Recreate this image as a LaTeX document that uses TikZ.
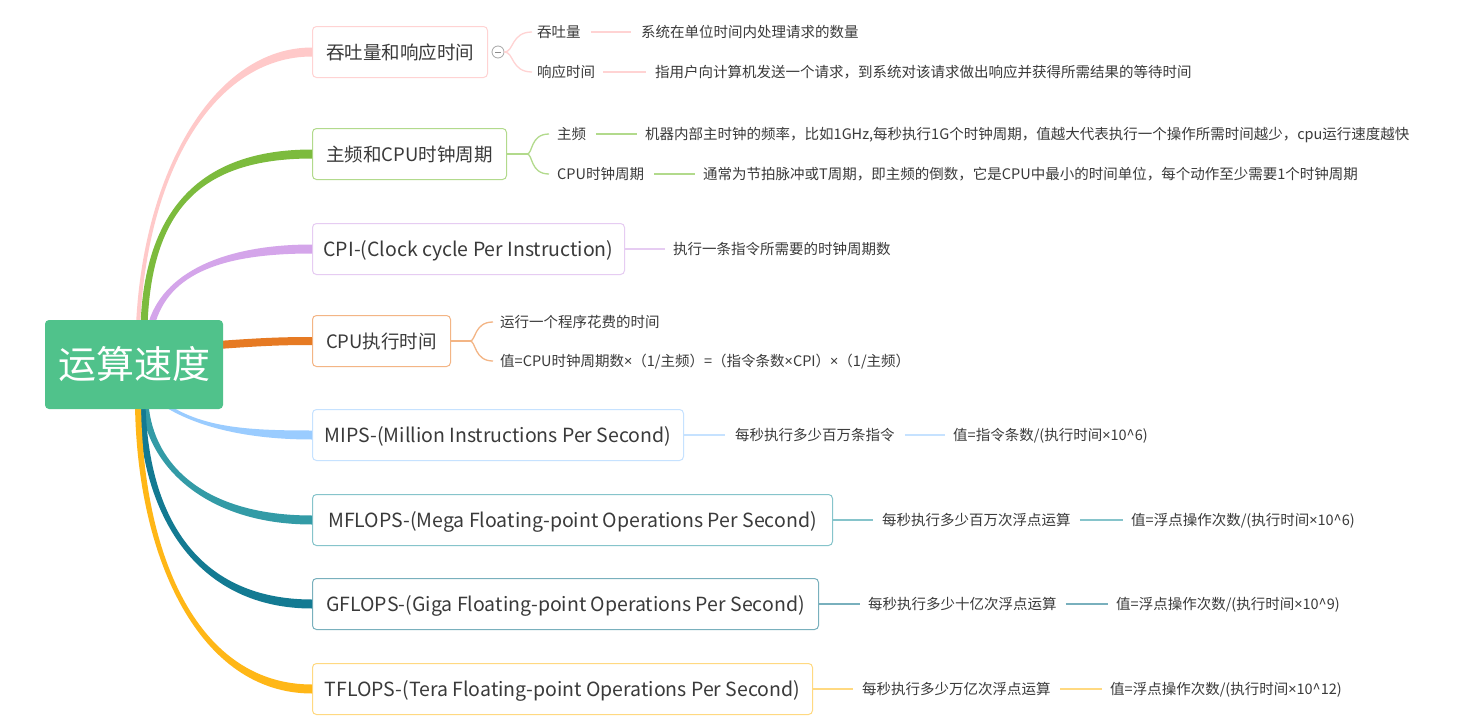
\documentclass[tikz,border=0pt]{standalone}
\usepackage{fontspec}
\newfontfamily\cjk{Noto Sans CJK SC}
\newfontfamily\latf{Noto Sans}
\newcommand\tms{{\latf\char"00D7}}
\definecolor{txt}{HTML}{3A3A3A}
\definecolor{rootg}{HTML}{50C28B}
\definecolor{cpink}{HTML}{FFC9C9}\definecolor{bpink}{HTML}{FFD3D3}
\definecolor{cgreen}{HTML}{7CBB3D}\definecolor{bgreen}{HTML}{B2DA8C}
\definecolor{cpurp}{HTML}{D4A5EA}\definecolor{bpurp}{HTML}{E6CCF2}
\definecolor{corange}{HTML}{E67A23}\definecolor{borange}{HTML}{F3B585}
\definecolor{cblue}{HTML}{9ACCFF}\definecolor{bblue}{HTML}{C6E2FF}
\definecolor{cteal}{HTML}{339BA6}\definecolor{bteal}{HTML}{86C4CB}
\definecolor{cdteal}{HTML}{137A92}\definecolor{bdteal}{HTML}{79B0BD}
\definecolor{cyell}{HTML}{FFB717}\definecolor{byell}{HTML}{FFD981}
\tikzset{
  mainbox/.style={draw, rounded corners=4pt, fill=white, line width=1pt,
    minimum height=51pt, inner xsep=0pt, anchor=west, text=txt,
    text height=14pt, text depth=0pt,
    font=\cjk\fontsize{18.5}{20}\selectfont},
  latbox/.style={mainbox, font=\cjk\fontsize{19.5}{21}\selectfont},
  leaf/.style={anchor=west, inner sep=0pt, text=txt, text height=10pt, text depth=0pt,
    font=\cjk\fontsize{14.5}{16}\selectfont},
  twig/.style={line width=1.3pt},
}
% tapered branch going up: color, start coord, p1x, p1y, p2x, p2y, target node, half width at start
\newcommand\branchup[8]{%
  \fill[#1] ([xshift=-#8pt]#2) .. controls (#3-#8,#4) and (#5,#6-4.5) .. ([yshift=4.5pt]#7.west)
    -- ([yshift=-4.5pt]#7.west) .. controls (#5,#6+4.5) and (#3+#8,#4) .. ([xshift=#8pt]#2) -- cycle;}
\newcommand\branchdown[8]{%
  \fill[#1] ([xshift=-#8pt]#2) .. controls (#3-#8,#4) and (#5,#6+4.5) .. ([yshift=-4.5pt]#7.west)
    -- ([yshift=4.5pt]#7.west) .. controls (#5,#6-4.5) and (#3+#8,#4) .. ([xshift=#8pt]#2) -- cycle;}
\begin{document}
\begin{tikzpicture}[x=1pt,y=-1pt]
\useasboundingbox (0,0) rectangle (1468,728);
\fill[white] (0,0) rectangle (1468,728);

% main boxes
\node[mainbox, draw=bpink, minimum width=175pt] (b1) at (312,52) {吞吐量和响应时间};
\node[mainbox, draw=bgreen, minimum width=194pt] (b2) at (312,154) {主频和CPU时钟周期};
\node[latbox, draw=bpurp, minimum width=312pt] (b3) at (312,249) {CPI-(Clock cycle Per Instruction)};
\node[mainbox, draw=borange, minimum width=138pt] (b4) at (312,341) {CPU执行时间};
\node[latbox, draw=bblue, minimum width=371pt] (b5) at (312,435) {MIPS-(Million Instructions Per Second)};
\node[latbox, draw=bteal, minimum width=520pt] (b6) at (312,520) {MFLOPS-(Mega Floating-point Operations Per Second)};
\node[latbox, draw=bdteal, minimum width=506pt] (b7) at (312,604) {GFLOPS-(Giga Floating-point Operations Per Second)};
\node[latbox, draw=byell, minimum width=500pt] (b8) at (312,689) {TFLOPS-(Tera Floating-point Operations Per Second)};

% branches from root
\coordinate (s1) at (138,326);
\coordinate (s2) at (144,326);
\coordinate (s3) at (151,326);
\coordinate (s4) at (218,345);
\coordinate (s5) at (164,404);
\coordinate (s6) at (145,404);
\coordinate (s7) at (142,404);
\coordinate (s8) at (138,404);
\branchup{cpink}{s1}{145}{170}{215}{52}{b1}{2}
\branchup{cgreen}{s2}{148}{210}{200}{154}{b2}{3.5}
\branchup{cpurp}{s3}{165}{272}{225}{249}{b3}{3.5}
\draw[line width=8pt, corange] (s4) .. controls (260,342) and (280,341) .. (b4.west);
\branchdown{cblue}{s5}{200}{428}{250}{435}{b5}{3.5}
\branchdown{cteal}{s6}{150}{465}{205}{520}{b6}{3.5}
\branchdown{cdteal}{s7}{145}{520}{200}{604}{b7}{3.5}
\branchdown{cyell}{s8}{140}{560}{200}{689}{b8}{3}

% root
\node[fill=rootg, rounded corners=4pt, minimum width=178pt, minimum height=89pt,
  text=white, font=\cjk\fontsize{38}{40}\selectfont] (root) at (134,364.5) {运算速度};

% branch 1
\node[circle, draw=black!35, line width=0.8pt, minimum size=12pt, inner sep=0pt] (col) at (498,52) {};
\draw[black!45, line width=0.8pt] ([xshift=-3pt]col.center) -- ([xshift=3pt]col.center);
\node[leaf] (c11) at (537,32) {吞吐量};
\node[leaf] (c11d) at (641,32) {系统在单位时间内处理请求的数量};
\node[leaf] (c12) at (537,72) {响应时间};
\node[leaf] (c12d) at (655,72) {指用户向计算机发送一个请求，到系统对该请求做出响应并获得所需结果的等待时间};
\draw[twig, bpink] (col.east) .. controls (514,52) and (511,32) .. ([xshift=-5pt]c11.west);
\draw[twig, bpink] (col.east) .. controls (514,52) and (511,72) .. ([xshift=-5pt]c12.west);
\draw[twig, bpink, shorten <=10pt, shorten >=10pt] (c11.east) -- (c11d.west);
\draw[twig, bpink, shorten <=8pt, shorten >=9pt] (c12.east) -- (c12d.west);

% branch 2
\node[leaf] (c21) at (557,134) {主频};
\node[leaf] (c21d) at (645,134) {机器内部主时钟的频率，比如1GHz,每秒执行1G个时钟周期，值越大代表执行一个操作所需时间越少，cpu运行速度越快};
\node[leaf] (c22) at (557,174) {CPU时钟周期};
\node[leaf] (c22d) at (703,174) {通常为节拍脉冲或T周期，即主频的倒数，它是CPU中最小的时间单位，每个动作至少需要1个时钟周期};
\coordinate (k2) at (527,154);
\draw[twig, bgreen] (b2.east) -- (k2);
\draw[twig, bgreen] (k2) .. controls (533,154) and (530,134) .. ([xshift=-8pt]c21.west);
\draw[twig, bgreen] (k2) .. controls (533,154) and (530,174) .. ([xshift=-8pt]c22.west);
\draw[twig, bgreen, shorten <=10pt, shorten >=8pt] (c21.east) -- (c21d.west);
\draw[twig, bgreen, shorten <=10pt, shorten >=8pt] (c22.east) -- (c22d.west);

% branch 3
\node[leaf] (c31) at (673,249) {执行一条指令所需要的时钟周期数};
\draw[twig, bpurp, shorten >=8pt] (b3.east) -- (c31.west);

% branch 4
\node[leaf] (c41) at (500,322) {运行一个程序花费的时间};
\node[leaf] (c42) at (500,361) {值=CPU时钟周期数\tms（1/主频）=（指令条数\tms CPI）\tms（1/主频）};
\coordinate (k4) at (470,341);
\draw[twig, borange] (b4.east) -- (k4);
\draw[twig, borange] (k4) .. controls (476,341) and (474,322) .. ([xshift=-7pt]c41.west);
\draw[twig, borange] (k4) .. controls (476,341) and (474,361) .. ([xshift=-7pt]c42.west);

% branch 5
\node[leaf] (c51) at (735,435) {每秒执行多少百万条指令};
\node[leaf] (c52) at (953,435) {值=指令条数/(执行时间\tms 10\^{}6)};
\draw[twig, bblue, shorten >=10pt] (b5.east) -- (c51.west);
\draw[twig, bblue, shorten <=10pt, shorten >=8pt] (c51.east) -- (c52.west);

% branch 6
\node[leaf] (c61) at (882,520) {每秒执行多少百万次浮点运算};
\node[leaf] (c62) at (1131,520) {值=浮点操作次数/(执行时间\tms 10\^{}6)};
\draw[twig, bteal, shorten >=9pt] (b6.east) -- (c61.west);
\draw[twig, bteal, shorten <=9pt, shorten >=8pt] (c61.east) -- (c62.west);

% branch 7
\node[leaf] (c71) at (868,604) {每秒执行多少十亿次浮点运算};
\node[leaf] (c72) at (1116,604) {值=浮点操作次数/(执行时间\tms 10\^{}9)};
\draw[twig, bdteal, shorten >=8pt] (b7.east) -- (c71.west);
\draw[twig, bdteal, shorten <=9pt, shorten >=8pt] (c71.east) -- (c72.west);

% branch 8
\node[leaf] (c81) at (862,689) {每秒执行多少万亿次浮点运算};
\node[leaf] (c82) at (1110,689) {值=浮点操作次数/(执行时间\tms 10\^{}12)};
\draw[twig, byell, shorten >=9pt] (b8.east) -- (c81.west);
\draw[twig, byell, shorten <=9pt, shorten >=8pt] (c81.east) -- (c82.west);
\end{tikzpicture}
\end{document}
